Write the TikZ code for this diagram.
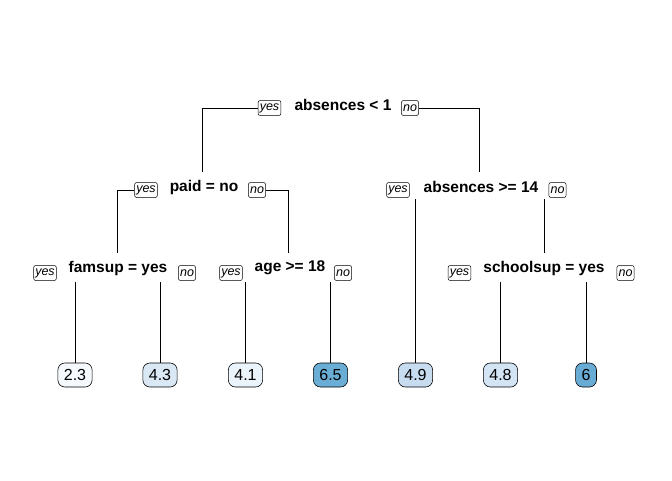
\documentclass[tikz,border=0pt]{standalone}
\usepackage{fontspec}
\setmainfont{Liberation Sans}
\definecolor{c23}{HTML}{F5F9FE}
\definecolor{c43}{HTML}{DAE7F4}
\definecolor{c41}{HTML}{EBF3FB}
\definecolor{c65}{HTML}{6AAED6}
\definecolor{c49}{HTML}{C8DCF0}
\definecolor{c48}{HTML}{D3E4F4}
\definecolor{c6}{HTML}{68ACD5}
\begin{document}
\begin{tikzpicture}[x=1pt,y=-1pt,
  splitlbl/.style={font=\fontsize{15.5}{16}\selectfont\bfseries, inner sep=0pt, minimum height=30pt},
  yn/.style={draw, line width=0.5pt, rounded corners=2pt, font=\fontsize{12.5}{13}\selectfont\itshape, inner xsep=1.6pt, inner ysep=0pt, minimum height=15pt},
  leaf/.style={draw, line width=0.6pt, rounded corners=7pt, font=\fontsize{16}{17}\selectfont, inner xsep=6pt, inner ysep=0pt, minimum height=24pt},
  br/.style={line width=0.8pt}]
\useasboundingbox[fill=white] (0,0) rectangle (672,480);
% split labels
\node[splitlbl] (root) at (343,105) {absences < 1};
\node[splitlbl] (paid) at (204,187) {paid = no};
\node[splitlbl] (abs) at (481,187) {absences >= 14};
\node[splitlbl] (fam) at (118,268) {famsup = yes};
\node[splitlbl] (age) at (290,268) {age >= 18};
\node[splitlbl] (sch) at (544,268) {schoolsup = yes};
% yes / no boxes
\node[yn] (rooty) at (269.5,108) {yes};
\node[yn] (rootn) at (410,108) {no};
\node[yn] (paidy) at (146,190) {yes};
\node[yn] (paidn) at (257,190) {no};
\node[yn] (absy) at (398,190) {yes};
\node[yn] (absn) at (557.5,190) {no};
\node[yn] (famy) at (45,273) {yes};
\node[yn] (famn) at (187,273) {no};
\node[yn] (agey) at (231,273) {yes};
\node[yn] (agen) at (343,273) {no};
\node[yn] (schy) at (459.5,273) {yes};
\node[yn] (schn) at (625.5,273) {no};
% leaves
\node[leaf, fill=c23] (l1) at (75,375) {2.3};
\node[leaf, fill=c43] (l2) at (160,375) {4.3};
\node[leaf, fill=c41] (l3) at (245.5,375) {4.1};
\node[leaf, fill=c65] (l4) at (330.5,375) {6.5};
\node[leaf, fill=c49] (l5) at (415.5,375) {4.9};
\node[leaf, fill=c48] (l6) at (500.5,375) {4.8};
\node[leaf, fill=c6] (l7) at (586,375) {6};
% branches
\draw[br] (rooty.west) -| ([xshift=-2pt]paid.north);
\draw[br] (rootn.east) -| ([xshift=-2pt]abs.north);
\draw[br] (paidy.west) -| ([xshift=-1pt]fam.north);
\draw[br] (paidn.east) -| ([xshift=-2pt]age.north);
\draw[br] ([yshift=-1pt]absy.south -| l5.north) -- (l5.north);
\draw[br] ([yshift=-1pt]absn.south -| sch.north) -- (sch.north);
\draw[br] ([yshift=-1pt]famy.south -| l1.north) -- (l1.north);
\draw[br] ([yshift=-1pt]famn.south -| l2.north) -- (l2.north);
\draw[br] ([yshift=-1pt]agey.south -| l3.north) -- (l3.north);
\draw[br] ([yshift=-1pt]agen.south -| l4.north) -- (l4.north);
\draw[br] ([yshift=-1pt]schy.south -| l6.north) -- (l6.north);
\draw[br] ([yshift=-1pt]schn.south -| l7.north) -- (l7.north);
\end{tikzpicture}
\end{document}
